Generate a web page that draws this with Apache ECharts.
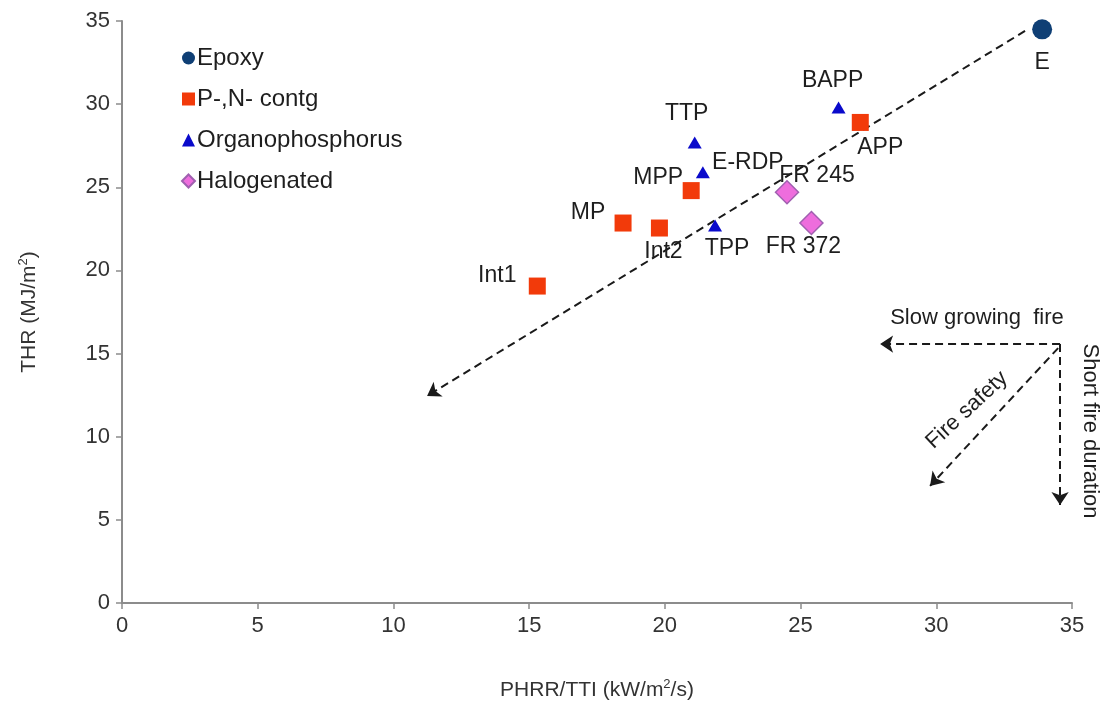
<!DOCTYPE html>
<html>
<head>
<meta charset="utf-8">
<script src="https://cdn.jsdelivr.net/npm/echarts@6/dist/echarts.min.js"></script>
<style>
html,body{margin:0;padding:0;background:#fff;}
#chart{width:1107px;height:715px;}
</style>
</head>
<body>
<div id="chart"></div>
<script>
// ---- data ----
const epoxyNames = ['E'];
const epoxyX = [33.9];
const epoxyY = [34.5];

const pnNames = ['APP', 'MPP', 'MP', 'Int2', 'Int1'];
const pnX = [27.2, 20.97, 18.46, 19.8, 15.3];
const pnY = [28.9, 24.8, 22.85, 22.55, 19.06];

const opNames = ['BAPP', 'TTP', 'E-RDP', 'TPP'];
const opX = [26.4, 21.1, 21.4, 21.85];
const opY = [29.8, 27.7, 25.9, 22.7];

const haloNames = ['FR 245', 'FR 372'];
const haloX = [24.5, 25.4];
const haloY = [24.7, 22.85];

const legendNames = ['Epoxy', 'P-,N- contg', 'Organophosphorus', 'Halogenated'];

// annotation arrows (data coordinates)
const arrowStarts = [[33.27, 34.4], [34.56, 15.57], [34.56, 15.57], [34.49, 15.33]];
const arrowEnds = [[11.24, 12.45], [27.93, 15.57], [34.56, 5.9], [29.77, 7.04]];

// annotation texts (data coordinates)
const noteTexts = ['Slow growing  fire', 'Short fire duration', 'Fire safety'];
const noteX = [31.5, 35.67, 31.13];
const noteY = [17.14, 10.34, 11.6];
const noteRotate = [0, -90, 43];

// ---- label placement (pixel offsets from the marker centre) ----
const labelOffset = {
  'E': [0, 33], 'BAPP': [-6, -27], 'APP': [20, 25], 'TTP': [-8, -29],
  'E-RDP': [45, -10], 'MPP': [-33, -13], 'MP': [-35, -10], 'Int2': [4, 24],
  'TPP': [12, 23], 'FR 245': [30, -17], 'FR 372': [-8, 24], 'Int1': [-40, -10]
};

const FONT = 'Liberation Sans, Arial, sans-serif';
const TXT = '#1e1e1e';

function pts(names, xs, ys) {
  return names.map((n, i) => ({
    name: n,
    value: [xs[i], ys[i]],
    label: { offset: labelOffset[n] }
  }));
}
const ptLabel = {
  show: true, position: 'inside', formatter: '{b}',
  color: TXT, fontSize: 23, fontFamily: FONT
};

const chart = echarts.init(document.getElementById('chart'), null, { renderer: 'canvas' });

const axisCommon = {
  type: 'value', min: 0, max: 35, interval: 5,
  axisLine: { show: true, onZero: false, lineStyle: { color: '#8c8c8c', width: 2 } },
  axisTick: { show: true, length: 6, lineStyle: { color: '#8c8c8c', width: 1.5 } },
  splitLine: { show: false },
  axisLabel: { fontSize: 22, color: '#333333', fontFamily: FONT, margin: 12 },
  nameLocation: 'middle'
};

const option = {
  backgroundColor: '#ffffff',
  animation: false,
  grid: { left: 122, right: 35, top: 21, bottom: 112, containLabel: false },
  legend: {
    data: legendNames,
    orient: 'vertical',
    left: 176, top: 41,
    itemWidth: 13, itemHeight: 13, itemGap: 17,
    textStyle: { fontSize: 24, color: TXT, fontFamily: FONT, lineHeight: 24, padding: [0, 0, 0, -3] }
  },
  xAxis: Object.assign({}, axisCommon, {
    name: '{a|PHRR/TTI (kW/m}{s|2}{a|/s)}',
    nameGap: 75,
    nameTextStyle: {
      rich: {
        a: { fontSize: 21, color: '#333333', fontFamily: FONT },
        s: { fontSize: 13, color: '#333333', fontFamily: FONT, padding: [0, 0, 12, 0] }
      }
    }
  }),
  yAxis: Object.assign({}, axisCommon, {
    name: '{a|THR (MJ/m}{s|2}{a|)}',
    nameGap: 80,
    nameTextStyle: {
      rich: {
        a: { fontSize: 21, color: '#333333', fontFamily: FONT },
        s: { fontSize: 13, color: '#333333', fontFamily: FONT, padding: [0, 0, 12, 0] }
      }
    }
  }),
  series: [
    {
      type: 'lines', coordinateSystem: 'cartesian2d', silent: true, clip: false,
      polyline: false, z: 1,
      symbol: ['none', 'arrow'], symbolSize: 13,
      lineStyle: { color: '#1a1a1a', width: 2, type: [8, 5], opacity: 1 },
      data: arrowStarts.map((s, i) => ({ coords: [s, arrowEnds[i]] }))
    },
    {
      type: 'scatter', silent: true, clip: false, z: 1,
      symbolSize: 1, itemStyle: { color: 'rgba(255,255,255,0)', opacity: 1 },
      label: { show: true, position: 'inside', formatter: '{b}', color: TXT, fontSize: 22, fontFamily: FONT },
      data: noteTexts.map((t, i) => ({ name: t, value: [noteX[i], noteY[i]], label: { rotate: noteRotate[i] } }))
    },
    {
      name: 'Epoxy', type: 'scatter', symbol: 'circle', symbolSize: 20, z: 3,
      itemStyle: { color: '#0f3f75', opacity: 1 },
      label: ptLabel,
      data: pts(epoxyNames, epoxyX, epoxyY)
    },
    {
      name: 'P-,N- contg', type: 'scatter', symbol: 'rect', symbolSize: 17, z: 3,
      itemStyle: { color: '#f23a0a', opacity: 1 },
      label: ptLabel,
      data: pts(pnNames, pnX, pnY)
    },
    {
      name: 'Organophosphorus', type: 'scatter', symbol: 'triangle', symbolSize: [14, 12], z: 3,
      itemStyle: { color: '#0a0acb', opacity: 1 },
      label: ptLabel,
      data: pts(opNames, opX, opY)
    },
    {
      name: 'Halogenated', type: 'scatter', symbol: 'diamond', symbolSize: 23, z: 3,
      itemStyle: { color: '#ee6ddd', borderColor: '#a060b0', borderWidth: 1.5, opacity: 1 },
      label: ptLabel,
      data: pts(haloNames, haloX, haloY)
    }
  ]
};
chart.setOption(option);
</script>
</body>
</html>
